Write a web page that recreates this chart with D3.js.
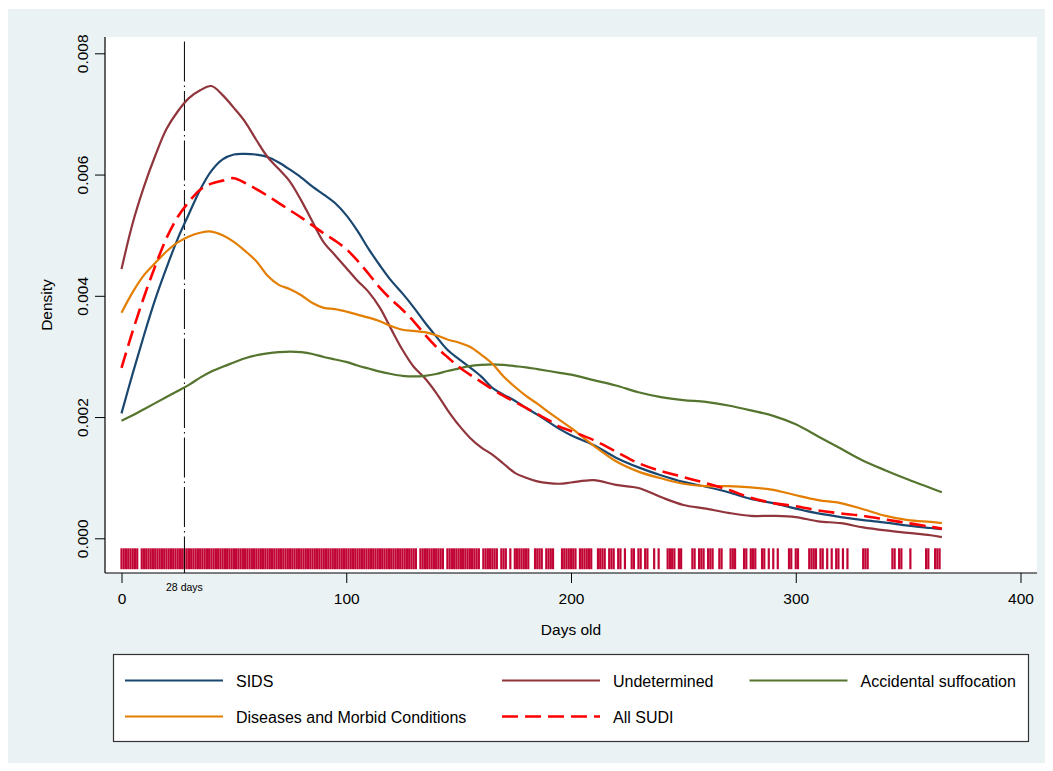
<!DOCTYPE html>
<html>
<head>
<meta charset="utf-8">
<script src="https://cdn.jsdelivr.net/npm/d3@7"></script>
<style>
  html, body { margin: 0; padding: 0; background: #ffffff; }
  svg { display: block; font-family: "Liberation Sans", Arial, Helvetica, sans-serif; }
</style>
</head>
<body>
<svg id="chart" width="1053" height="771"></svg>
<script>
// ---- data -------------------------------------------------------------
// Age grid (days) on which the kernel densities are evaluated
const days = [0,5,10,15,20,25,30,35,40,45,50,55,60,65,70,75,80,85,90,95,100,
  105,110,115,120,125,130,135,140,145,150,155,160,165,170,175,180,185,190,195,200,
  210,220,230,240,250,260,270,280,290,300,310,320,330,340,350,360,365];

const sids = [.00206,.00272,.00335,.00394,.00446,.00494,.00535,.00575,.00606,.00625,.00633,
  .00634,.00633,.00629,.00620,.00608,.00595,.00580,.00567,.00553,.00533,
  .00507,.00477,.00450,.00425,.00404,.00381,.00356,.00333,.00311,.00296,
  .00282,.00267,.00248,.00237,.00227,.00215,.00204,.00192,.00180,.00170,
  .00154,.00133,.00117,.00104,.00093,.00085,.00076,.00065,.00058,.00049,
  .00041,.00035,.00030,.00026,.00021,.00017,.00015];

const undetermined = [.00444,.00520,.00580,.00631,.00675,.00704,.00726,.00739,.00746,.00731,.00710,
  .00687,.00657,.00629,.00609,.00588,.00557,.00522,.00488,.00467,.00446,
  .00425,.00406,.00380,.00345,.00311,.00283,.00264,.00240,.00212,.00187,
  .00166,.00150,.00138,.00123,.00108,.00100,.00094,.00091,.00090,.00092,
  .00096,.00088,.00083,.00068,.00055,.00049,.00042,.00037,.00037,.00035,
  .00028,.00025,.00018,.00013,.00009,.00005,.00002];

const accidental = [.00194,.00203,.00213,.00223,.00233,.00243,.00253,.00265,.00275,.00283,.00290,
  .00297,.00302,.00305,.00307,.00308,.00307,.00304,.00299,.00295,.00291,
  .00285,.00280,.00275,.00271,.00268,.00267,.00268,.00271,.00276,.00280,
  .00284,.00286,.00287,.00286,.00284,.00282,.00279,.00276,.00273,.00270,
  .00261,.00252,.00241,.00233,.00228,.00225,.00219,.00211,.00202,.00188,
  .00168,.00148,.00128,.00112,.00097,.00083,.00076];

const diseases = [.00372,.00406,.00434,.00454,.00473,.00488,.00498,.00504,.00506,.00500,.00489,
  .00474,.00457,.00433,.00418,.00411,.00401,.00388,.00380,.00378,.00374,
  .00369,.00364,.00358,.00350,.00344,.00342,.00340,.00335,.00328,.00323,
  .00316,.00303,.00288,.00267,.00250,.00235,.00222,.00208,.00195,.00182,
  .00153,.00127,.00110,.00099,.00090,.00086,.00086,.00084,.00080,.00071,
  .00063,.00058,.00048,.00037,.00030,.00027,.00025];

const allSudi = [.00281,.00342,.00398,.00449,.00495,.00530,.00555,.00575,.00585,.00590,.00594,
  .00586,.00576,.00565,.00553,.00541,.00529,.00516,.00503,.00491,.00477,
  .00458,.00436,.00413,.00394,.00377,.00358,.00336,.00316,.00299,.00283,
  .00270,.00258,.00246,.00235,.00225,.00215,.00205,.00195,.00184,.00177,
  .00162,.00143,.00124,.00111,.00101,.00091,.00080,.00067,.00058,.00053,
  .00046,.00041,.00037,.00031,.00025,.00019,.00016];

// Age at death (days) of individual cases, drawn as a rug under the curves
const caseDays = [0,1,2,3,4,5,6,7,
  9,10,11,12,13,14,15,16,17,18,19,20,21,22,23,24,25,26,27,28,29,30,
  31,32,33,34,35,36,37,38,39,40,41,42,43,44,45,46,47,48,49,50,
  51,52,53,54,55,56,57,58,59,60,61,62,63,64,65,66,67,68,69,70,
  71,72,73,74,75,76,77,78,79,80,81,82,83,84,85,86,87,88,89,90,
  91,92,93,94,95,96,97,98,99,100,101,102,103,104,105,106,107,108,109,110,
  111,112,113,114,115,116,117,118,119,120,121,122,123,124,125,126,127,128,129,130,131,
  133,134,135,136,137,138,139,140,141,142,143,
  145,146,147,148,149,150,151,152,153,154,155,156,157,158,159,
  161,162,163,164,165,166,167,169,170,171,173,175,176,177,178,179,180,181,
  184,185,186,187,189,190,191,192,196,197,198,199,
  200,201,202,204,205,206,207,208,209,212,213,214,215,217,218,219,
  221,222,224,227,228,230,231,233,234,237,239,
  243,244,245,246,248,249,254,255,257,258,259,261,262,263,266,267,
  271,272,273,277,278,280,281,282,285,286,288,290,292,
  297,298,300,301,306,307,308,309,311,312,314,316,318,319,321,323,
  330,331,332,343,344,346,347,351,358,359,362,363,364];

const yTicks = [0, 0.002, 0.004, 0.006, 0.008];
const xTicks = [0, 100, 200, 300, 400];
const neonatalCutoff = 28;   // days
const rugSpan = [-0.000165, -0.00051];

const series = [
  { name: "SIDS",                           values: sids,         color: "#1a476f", dash: null },
  { name: "Undetermined",                   values: undetermined, color: "#90353b", dash: null },
  { name: "Accidental suffocation",         values: accidental,   color: "#55752f", dash: null },
  { name: "Diseases and Morbid Conditions", values: diseases,     color: "#e37e00", dash: null },
  { name: "All SUDI",                       values: allSudi,      color: "#ff0000", dash: "16,7" }
];

// ---- layout -----------------------------------------------------------
const outer = { x: 8, y: 9, w: 1037, h: 754 };
const plot = { left: 105, right: 1037, top: 37, bottom: 573 };
const axisFont = 15.5, legendFont = 16;

const x = d3.scaleLinear().domain([0, 400]).range([121.5, 1020.5]);
const y = d3.scaleLinear().domain([0, 0.008]).range([538.3, 53.3]);

const svg = d3.select("#chart");

svg.append("rect").attr("x", outer.x).attr("y", outer.y)
  .attr("width", outer.w).attr("height", outer.h).attr("fill", "#eaf2f3");

svg.append("rect").attr("x", plot.left).attr("y", plot.top)
  .attr("width", plot.right - plot.left).attr("height", plot.bottom - plot.top)
  .attr("fill", "#ffffff");

// rug of individual cases
svg.append("g").selectAll("line").data(caseDays).join("line")
  .attr("x1", d => x(d)).attr("x2", d => x(d))
  .attr("y1", y(rugSpan[0])).attr("y2", y(rugSpan[1]))
  .attr("stroke", "#c10534").attr("stroke-width", 2.2);

// 28-day reference line
svg.append("line")
  .attr("x1", x(neonatalCutoff)).attr("x2", x(neonatalCutoff))
  .attr("y1", plot.top + 4.5).attr("y2", plot.bottom)
  .attr("stroke", "#000").attr("stroke-width", 1)
  .attr("stroke-dasharray", "40,4,1.5,4");

svg.append("text").attr("x", x(neonatalCutoff)).attr("y", plot.bottom + 18)
  .attr("text-anchor", "middle").attr("font-size", 10.5).attr("fill", "#000")
  .text(neonatalCutoff + " days");

// density curves
const line = d3.line()
  .x((d, i) => x(days[i]))
  .y(d => y(d))
  .curve(d3.curveCatmullRom.alpha(0.5));

svg.append("g").selectAll("path").data(series).join("path")
  .attr("d", s => line(s.values))
  .attr("fill", "none")
  .attr("stroke", s => s.color)
  .attr("stroke-width", s => s.dash ? 2.6 : 2.2)
  .attr("stroke-linejoin", "round")
  .attr("stroke-dasharray", s => s.dash);

// axes
const yAxis = svg.append("g").attr("transform", `translate(${plot.left},0)`)
  .call(d3.axisLeft(y).tickValues(yTicks).tickFormat(d3.format(".3f")).tickSize(10));
yAxis.select(".domain").remove();
yAxis.selectAll(".tick line").attr("stroke", "#000");
yAxis.selectAll(".tick text")
  .attr("x", null).attr("dy", null)
  .attr("transform", "translate(-17.5,0) rotate(-90)")
  .attr("text-anchor", "middle")
  .attr("font-size", axisFont).attr("font-family", null).attr("fill", "#000");
svg.append("line").attr("x1", plot.left).attr("x2", plot.left)
  .attr("y1", plot.top).attr("y2", plot.bottom).attr("stroke", "#000").attr("stroke-width", 1.2);

const xAxis = svg.append("g").attr("transform", `translate(0,${plot.bottom})`)
  .call(d3.axisBottom(x).tickValues(xTicks).tickFormat(d3.format("d")).tickSize(10));
xAxis.select(".domain").remove();
xAxis.selectAll(".tick line").attr("stroke", "#000");
xAxis.selectAll(".tick text")
  .attr("y", 30.5).attr("dy", null)
  .attr("font-size", axisFont).attr("font-family", null).attr("fill", "#000");
svg.append("line").attr("x1", plot.left).attr("x2", plot.right)
  .attr("y1", plot.bottom).attr("y2", plot.bottom).attr("stroke", "#000").attr("stroke-width", 1.2);

// axis titles
svg.append("text").attr("x", (plot.left + plot.right) / 2).attr("y", 635)
  .attr("text-anchor", "middle").attr("font-size", axisFont).attr("fill", "#000")
  .text("Days old");
svg.append("text")
  .attr("transform", `translate(52,${(plot.top + plot.bottom) / 2}) rotate(-90)`)
  .attr("text-anchor", "middle").attr("font-size", axisFont).attr("fill", "#000")
  .text("Density");

// legend
const legendBox = { x: 113.5, y: 654.5, w: 915, h: 87 };
svg.append("rect").attr("x", legendBox.x).attr("y", legendBox.y)
  .attr("width", legendBox.w).attr("height", legendBox.h)
  .attr("fill", "#fff").attr("stroke", "#333").attr("stroke-width", 1.2);

const legendSlots = [
  { lx: 125,   ly: 680.5 }, { lx: 502, ly: 680.5 }, { lx: 749.5, ly: 680.5 },
  { lx: 125,   ly: 716.5 }, { lx: 502, ly: 716.5 }
];
const legendLineLen = 98, legendGap = 13;

const items = svg.append("g").selectAll("g").data(series).join("g")
  .attr("transform", (s, i) => `translate(${legendSlots[i].lx},${legendSlots[i].ly})`);
items.append("line").attr("x1", 0).attr("x2", legendLineLen)
  .attr("y1", 0).attr("y2", 0)
  .attr("stroke", s => s.color)
  .attr("stroke-width", s => s.dash ? 2.6 : 2.2)
  .attr("stroke-dasharray", s => s.dash);
items.append("text").attr("x", legendLineLen + legendGap).attr("y", 6)
  .attr("font-size", legendFont).attr("fill", "#000")
  .text(s => s.name);
</script>
</body>
</html>
